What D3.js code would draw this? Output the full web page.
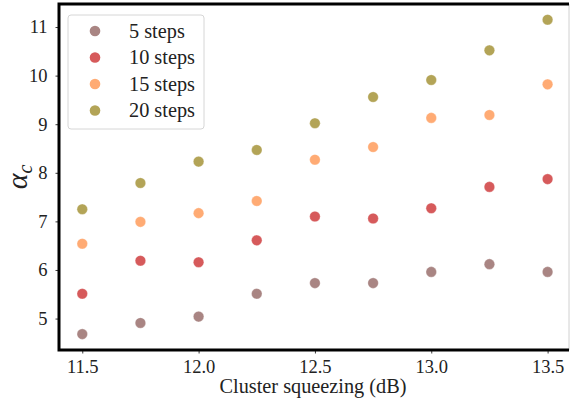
<!DOCTYPE html>
<html>
<head>
<meta charset="utf-8">
<script src="https://cdn.jsdelivr.net/npm/d3@7"></script>
<style>
  html, body { margin: 0; padding: 0; background: #fff; }
  svg { display: block; }
</style>
</head>
<body>
<svg id="chart" width="570" height="408"></svg>
<script>
// Cluster squeezing levels (dB)
const squeezing = [11.5, 11.75, 12.0, 12.25, 12.5, 12.75, 13.0, 13.25, 13.5];

// Critical alpha for each number of steps
const steps5  = [4.68, 4.91, 5.04, 5.51, 5.73, 5.73, 5.96, 6.12, 5.96];
const steps10 = [5.51, 6.19, 6.16, 6.61, 7.10, 7.06, 7.27, 7.71, 7.87];
const steps15 = [6.54, 6.99, 7.17, 7.42, 8.27, 8.53, 9.13, 9.19, 9.82];
const steps20 = [7.25, 7.79, 8.23, 8.47, 9.02, 9.56, 9.91, 10.52, 11.15];

const seriesNames = ["5 steps", "10 steps", "15 steps", "20 steps"];
const seriesColors = ["#a98583", "#d65a5b", "#ffab74", "#b3a457"];

const xTicks = [11.5, 12.0, 12.5, 13.0, 13.5];
const yTicks = [5, 6, 7, 8, 9, 10, 11];

const FONT = "Liberation Serif";

const series = [steps5, steps10, steps15, steps20].map((vals, i) => ({
  name: seriesNames[i],
  color: seriesColors[i],
  points: vals.map((v, j) => ({ x: squeezing[j], y: v }))
}));

const svg = d3.select("#chart");
const plot = { left: 59, right: 569, top: 4, bottom: 350 };

const x = d3.scaleLinear().domain([11.4, 13.592]).range([plot.left, plot.right]);
const y = d3.scaleLinear().domain([4.353, 11.474]).range([plot.bottom, plot.top]);

// Axes
const xAxis = d3.axisBottom(x).tickValues(xTicks).tickFormat(d3.format(".1f")).tickSize(3.5).tickPadding(6);
const yAxis = d3.axisLeft(y).tickValues(yTicks).tickFormat(d3.format("d")).tickSize(3.5).tickPadding(8);

const gx = svg.append("g").attr("transform", `translate(0,${plot.bottom})`).call(xAxis);
const gy = svg.append("g").attr("transform", `translate(${plot.left},0)`).call(yAxis);
[gx, gy].forEach(g => {
  g.attr("font-family", FONT).attr("font-size", 18.5);
  g.select(".domain").remove();
  g.selectAll(".tick line").attr("stroke", "#222").attr("stroke-width", 0.9);
  g.selectAll(".tick text").attr("fill", "#222");
});

// Markers
const groups = svg.append("g").selectAll("g").data(series).join("g");
groups.selectAll("circle")
  .data(d => d.points.map(p => ({ ...p, color: d.color })))
  .join("circle")
  .attr("cx", d => x(d.x))
  .attr("cy", d => y(d.y))
  .attr("r", 5.3)
  .attr("fill", d => d.color)
  .attr("stroke", "#fff")
  .attr("stroke-opacity", 0.4)
  .attr("stroke-width", 0.8);

// Frame: right side thin grey, other sides heavy black
svg.append("line").attr("x1", plot.right).attr("x2", plot.right).attr("y1", plot.top).attr("y2", plot.bottom)
  .attr("stroke", "#d0d0d0").attr("stroke-width", 1);
svg.append("path")
  .attr("d", `M${plot.right},${plot.top} H${plot.left} V${plot.bottom} H${plot.right}`)
  .attr("fill", "none").attr("stroke", "#000").attr("stroke-width", 3);

// Axis labels
svg.append("text")
  .attr("x", 313)
  .attr("y", 393)
  .attr("text-anchor", "middle")
  .attr("font-family", FONT)
  .attr("font-size", 20.3)
  .attr("fill", "#222")
  .text("Cluster squeezing (dB)");

const yl = svg.append("text")
  .attr("transform", `translate(27,177) rotate(-90)`)
  .attr("text-anchor", "middle")
  .attr("font-family", FONT)
  .attr("font-size", 30)
  .attr("fill", "#222");
yl.append("tspan").attr("font-style", "italic").text("α");
yl.append("tspan").attr("font-style", "italic").attr("font-size", 20).attr("dy", 5).text("c");

// Legend
const legend = svg.append("g").attr("transform", "translate(68,15)");
legend.append("rect")
  .attr("width", 136).attr("height", 114).attr("rx", 3)
  .attr("fill", "#fff").attr("fill-opacity", 0.8)
  .attr("stroke", "#d6d6d6").attr("stroke-width", 1);
const items = legend.selectAll("g.item").data(series).join("g")
  .attr("class", "item")
  .attr("transform", (d, i) => `translate(0,${16 + i * 26.5})`);
items.append("circle").attr("cx", 27).attr("cy", 0).attr("r", 5.3).attr("fill", d => d.color);
items.append("text").attr("x", 61).attr("y", 6.5)
  .attr("font-family", FONT).attr("font-size", 20.3)
  .attr("fill", "#222").text(d => d.name);
</script>
</body>
</html>
